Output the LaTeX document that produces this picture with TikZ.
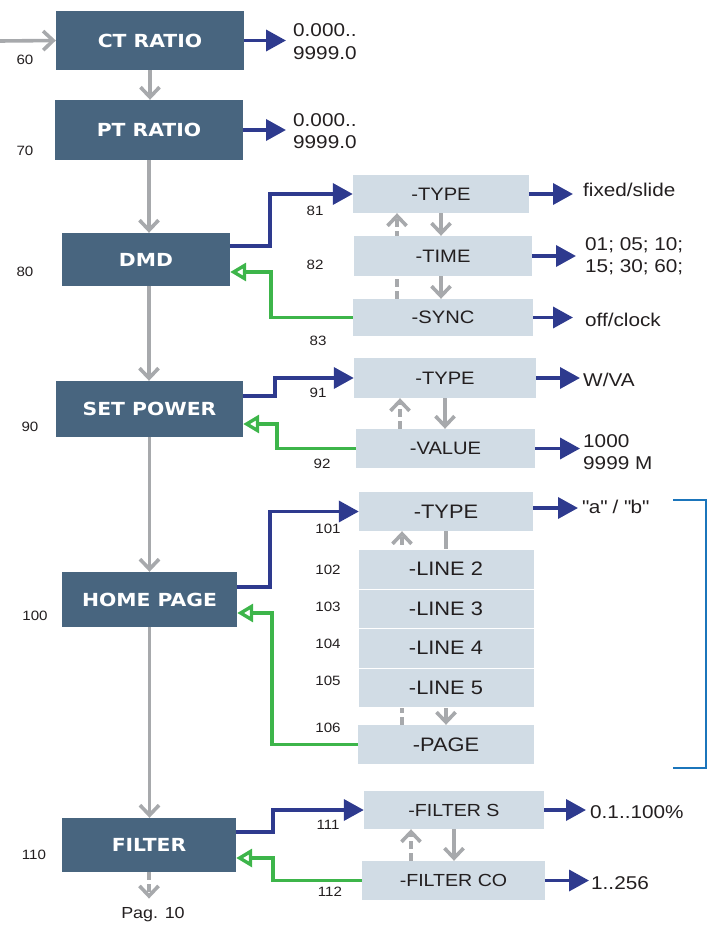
\documentclass[tikz,border=0pt]{standalone}
\usepackage{fontspec}
\setmainfont{Liberation Sans}[FakeStretch=1.12]
\newfontfamily\boxfont{DejaVu Sans}[FakeStretch=1.13]
\usetikzlibrary{arrows.meta}
\pgfdeclarelayer{bg}
\pgfsetlayers{bg,main}
\definecolor{mainfill}{HTML}{48657F}
\definecolor{lightfill}{HTML}{D1DCE5}
\definecolor{arrgray}{HTML}{A7A9AC}
\definecolor{arrblue}{HTML}{2E3A8E}
\definecolor{arrgreen}{HTML}{3DB54A}
\definecolor{brblue}{HTML}{1B75BB}
\definecolor{txt}{HTML}{231F20}
\begin{document}
\begin{tikzpicture}[x={(1pt,0pt)},y={(0pt,-1pt)},
  mainbox/.style={fill=mainfill,text=white,inner sep=0pt,font=\boxfont\bfseries\fontsize{18}{20}\selectfont},
  lightbox/.style={fill=lightfill,text=txt,inner sep=0pt,font=\fontsize{18}{20}\selectfont},
  hpbox/.style={lightbox,font=\fontsize{19.5}{20}\selectfont},
  linebox/.style={hpbox,draw=white,line width=0.6pt},
  filbox/.style={lightbox,font=\fontsize{17.5}{20}\selectfont},
  num/.style={text=txt,inner sep=0pt,font=\fontsize{13.5}{14}\selectfont},
  val/.style={text=txt,inner sep=0pt,anchor=west,align=left,font=\fontsize{18.5}{22.5}\selectfont},
  grayarr/.style={draw=arrgray,line width=3.6pt,-{Straight Barb[length=10pt,width=19pt]}},
  graydash/.style={grayarr,dash pattern=on 8pt off 4pt},
  bluearr/.style={draw=arrblue,line width=3.6pt,-{Triangle[length=20pt,width=21pt]}},
  greenarr/.style={draw=arrgreen,line width=3.4pt,-{Triangle[open,length=16pt,width=18pt]}},
  bracket/.style={draw=brblue,line width=2.4pt}]
\useasboundingbox (0,0) rectangle (709,925);

% main boxes
\node[mainbox,minimum width=188pt,minimum height=59pt] (ct) at (150,40.5) {CT RATIO};
\node[mainbox,minimum width=188pt,minimum height=60pt] (pt) at (149,130) {PT RATIO};
\node[mainbox,minimum width=168pt,minimum height=53pt] (dmd) at (146,259.5) {DMD};
\node[mainbox,minimum width=187pt,minimum height=56pt] (sp) at (149.5,409) {SET POWER};
\node[mainbox,minimum width=175pt,minimum height=55pt] (hp) at (149.5,599.5) {HOME PAGE};
\node[mainbox,minimum width=174pt,minimum height=54pt] (fil) at (149,845) {FILTER};

% sub boxes
\node[lightbox,minimum width=176pt,minimum height=38pt] (dtype) at (441,194) {-TYPE};
\node[lightbox,minimum width=178pt,minimum height=40pt] (dtime) at (443,256) {-TIME};
\node[lightbox,minimum width=180pt,minimum height=37pt] (dsync) at (443,317.5) {-SYNC};
\node[lightbox,minimum width=182pt,minimum height=40pt] (stype) at (445,378) {-TYPE};
\node[lightbox,minimum width=179pt,minimum height=39pt] (sval) at (445.5,448.5) {-VALUE};
\node[hpbox,minimum width=174pt,minimum height=39pt] (htype) at (446,511.5) {-TYPE};
\node[linebox,minimum width=176pt,minimum height=40pt] (l2) at (446,569) {-LINE 2};
\node[linebox,minimum width=176pt,minimum height=39pt] (l3) at (446,608.5) {-LINE 3};
\node[linebox,minimum width=176pt,minimum height=40pt] (l4) at (446,648) {-LINE 4};
\node[linebox,minimum width=176pt,minimum height=39pt] (l5) at (446,687.5) {-LINE 5};
\node[hpbox,minimum width=176pt,minimum height=39pt] (page) at (446,744.5) {-PAGE};
\node[filbox,minimum width=180pt,minimum height=38pt] (fs) at (454,810) {-FILTER S};
\node[filbox,minimum width=183pt,minimum height=39pt] (fco) at (453.5,880.5) {-FILTER CO};

% values
\node[val] (v1) at (293,41.5) {0.000..\\9999.0};
\node[val] (v2) at (293,131) {0.000..\\9999.0};
\node[val] (vfix) at (583,190) {fixed/slide};
\node[val] (vtime) at (585,256) {01; 05; 10;\\15; 30; 60;};
\node[val] (voff) at (585,320) {off/clock};
\node[val] (vw) at (583,380) {W/VA};
\node[val] (v1000) at (583,452) {1000\\9999 M};
\node[val] (vab) at (582,507) {\textquotedbl a\textquotedbl\ / \textquotedbl b\textquotedbl};
\node[val] (v01) at (590,812) {0.1..100\%};
\node[val] (v256) at (591,883) {1..256};

% numbers
\node[num] (n60) at (25,60) {60};
\node[num] (n70) at (25,151) {70};
\node[num] (n80) at (25,272) {80};
\node[num] (n90) at (30,427) {90};
\node[num] (n100) at (35,616) {100};
\node[num] (n110) at (34,855) {110};
\node[num] (n81) at (315,211) {81};
\node[num] (n82) at (315,265) {82};
\node[num] (n83) at (318,341) {83};
\node[num] (n91) at (318,393) {91};
\node[num] (n92) at (322,464) {92};
\node[num] (n101) at (328,529) {101};
\node[num] (n102) at (328,570) {102};
\node[num] (n103) at (328,607) {103};
\node[num] (n104) at (328,644) {104};
\node[num] (n105) at (328,681) {105};
\node[num] (n106) at (328,728) {106};
\node[num] (n111) at (328,825) {111};
\node[num] (n112) at (330,892) {112};
\node[text=txt,inner sep=0pt,font=\fontsize{16}{16}\selectfont] (pag) at (153,915) {Pag. 10};

\begin{pgfonlayer}{bg}
% main flow
\coordinate (start) at (0,41);
\draw[grayarr] (start) -- (ct.west);
\draw[grayarr] (ct.south) -- (ct.south |- pt.north);
\draw[grayarr] (pt.south) -- (pt.south |- dmd.north);
\draw[grayarr] (dmd.south -| pt.south) -- (pt.south |- sp.north);
\draw[grayarr] (sp.south) -- (sp.south |- hp.north);
\draw[grayarr] (hp.south) -- (hp.south |- fil.north);
\draw[graydash,shorten >=9pt] (fil.south) -- (fil.south |- pag.north);

% DMD internal
\draw[grayarr] (dtype.south) -- (dtype.south |- dtime.north);
\draw[grayarr] (dtype.south |- dtime.south) -- (dtype.south |- dsync.north);
\coordinate (dup) at ([xshift=-44pt]dtype.south);
\draw[graydash] (dup |- dsync.north) -- (dup);

% SET POWER internal
\draw[grayarr] (stype.south) -- (stype.south |- sval.north);
\coordinate (spup) at ([xshift=-45pt]stype.south);
\draw[graydash] (spup |- sval.north) -- (spup);

% HOME PAGE internal
\draw[grayarr] (htype.south) -- (htype.south |- page.north);
\coordinate (hpup) at ([xshift=-44pt]htype.south);
\draw[graydash] (hpup |- page.north) -- (hpup);

% FILTER internal
\draw[grayarr] (fs.south) -- (fs.south |- fco.north);
\coordinate (fup) at ([xshift=-43pt]fs.south);
\draw[graydash] (fup |- fco.north) -- (fup);

% blue value arrows
\draw[bluearr,shorten >=7pt] (ct.east) -- (ct.east -| v1.west);
\draw[bluearr,shorten >=7pt] (pt.east) -- (pt.east -| v2.west);
\draw[bluearr,shorten >=10pt] (dtype.east) -- (dtype.east -| vfix.west);
\draw[bluearr,shorten >=9pt] (dtime.east) -- (dtime.east -| vtime.west);
\draw[bluearr,shorten >=12pt] (dsync.east) -- (dsync.east -| voff.west);
\draw[bluearr,shorten >=3pt] (stype.east) -- (stype.east -| vw.west);
\draw[bluearr,shorten >=3pt] (sval.east) -- (sval.east -| v1000.west);
\draw[bluearr,shorten >=4pt] ([yshift=3.5pt]htype.east) -- ([yshift=3.5pt]htype.east -| vab.west);
\draw[bluearr,shorten >=4pt] (fs.east) -- (fs.east -| v01.west);
\draw[bluearr,shorten >=2pt] (fco.east) -- (fco.east -| v256.west);

% blue elbows
\draw[bluearr] ([yshift=13.5pt]dmd.east) -- ++(40,0) |- (dtype.west);
\draw[bluearr] ([yshift=13pt]sp.east) -- ++(32,0) |- (stype.west);
\draw[bluearr] ([yshift=12.5pt]hp.east) -- ++(33,0) |- (htype.west);
\draw[bluearr] ([yshift=13pt]fil.east) -- ++(37,0) |- (fs.west);

% green returns
\draw[greenarr] (dsync.west) -- ++(-82,0) |- ([yshift=-12.5pt]dmd.east);
\draw[greenarr] (sval.west) -- ++(-79,0) |- ([yshift=-15pt]sp.east);
\draw[greenarr] (page.west) -- ++(-86,0) |- ([yshift=-13.5pt]hp.east);
\draw[greenarr] (fco.west) -- ++(-89,0) |- ([yshift=-13pt]fil.east);
\end{pgfonlayer}

% bracket
\draw[bracket] (673,500) -- (706,500) -- (706,768) -- (673,768);
\end{tikzpicture}
\end{document}
